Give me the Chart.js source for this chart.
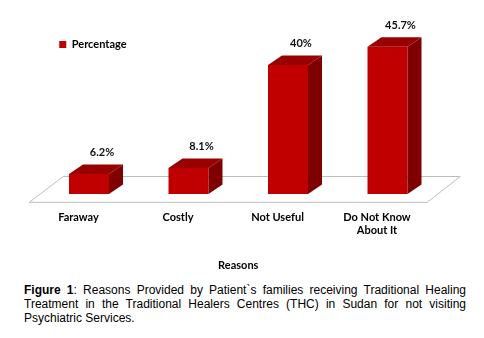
<!DOCTYPE html>
<html>
<head>
<meta charset="utf-8">
<script src="https://cdn.jsdelivr.net/npm/chart.js@4/dist/chart.umd.min.js"></script>
<style>
  html, body { margin: 0; padding: 0; background: #ffffff; }
  body { width: 484px; height: 338px; position: relative; overflow: hidden; }
  #wrap { position: absolute; left: 0; top: 0; width: 484px; height: 272px; }
  #caption {
    position: absolute; left: 24px; top: 282.7px; width: 442px;
    font-family: "Liberation Sans", Arial, sans-serif; font-size: 12px; line-height: 14.2px;
    color: #000; text-align: justify; margin: 0;
  }
</style>
</head>
<body>
<div id="wrap"><canvas id="c" width="484" height="272"></canvas></div>
<p id="caption"><b>Figure 1</b>: Reasons Provided by Patient`s families receiving Traditional Healing Treatment in the Traditional Healers Centres (THC) in Sudan for not visiting Psychiatric Services.</p>
<script>
// ---- data ----
const categories = ['Faraway', 'Costly', 'Not Useful', ['Do Not Know', 'About It']];
const percentages = [6.2, 8.1, 40, 45.7];
const seriesName = 'Percentage';
const axisTitle = 'Reasons';

// ---- styling ----
const FRONT = '#C00000', TOP = '#990000', SIDE = '#7F0000';
const DEPTH_X = 14, DEPTH_Y = 9.5;
const labelFont = { family: 'Lato', weight: 'bold', size: 11 };

Chart.defaults.font.family = 'Lato';

const floorPlugin = {
  id: 'floor3d',
  beforeDatasetsDraw(chart) {
    const { ctx, scales: { x, y } } = chart;
    const base = y.getPixelForValue(0);
    const fy = base + 8.3, by = base - 17.5;
    const fl = x.left - 10, fr = x.right - 10;
    const bl = x.left + 24, br = x.right + 23;
    ctx.save();
    ctx.beginPath();
    ctx.moveTo(fl, fy); ctx.lineTo(fr, fy); ctx.lineTo(br, by); ctx.lineTo(bl, by); ctx.closePath();
    ctx.fillStyle = '#ffffff';
    ctx.fill();
    ctx.strokeStyle = '#bcbcbc';
    ctx.lineWidth = 1;
    ctx.stroke();
    ctx.restore();
  }
};

const bar3dPlugin = {
  id: 'bar3d',
  afterDatasetsDraw(chart) {
    const { ctx } = chart;
    const meta = chart.getDatasetMeta(0);
    const values = chart.data.datasets[0].data;
    ctx.save();
    meta.data.forEach((el, i) => {
      const { x, y, base, width } = el.getProps(['x', 'y', 'base', 'width'], true);
      const l = x - width / 2, r = x + width / 2;
      // top face
      ctx.beginPath();
      ctx.moveTo(l, y); ctx.lineTo(r, y); ctx.lineTo(r + DEPTH_X, y - DEPTH_Y); ctx.lineTo(l + DEPTH_X, y - DEPTH_Y); ctx.closePath();
      ctx.fillStyle = TOP; ctx.fill();
      // side face
      ctx.beginPath();
      ctx.moveTo(r, y); ctx.lineTo(r + DEPTH_X, y - DEPTH_Y); ctx.lineTo(r + DEPTH_X, base - DEPTH_Y); ctx.lineTo(r, base); ctx.closePath();
      ctx.fillStyle = SIDE; ctx.fill();
      // value label
      ctx.fillStyle = '#111111';
      ctx.font = 'bold 11px Lato';
      ctx.textAlign = 'center';
      ctx.textBaseline = 'middle';
      ctx.fillText(values[i] + '%', x + 13, y - DEPTH_Y - 12);
    });
    ctx.restore();
  }
};

new Chart(document.getElementById('c'), {
  type: 'bar',
  data: {
    labels: categories,
    datasets: [{
      label: seriesName,
      data: percentages,
      backgroundColor: FRONT,
      borderWidth: 0,
      barPercentage: 0.402,
      categoryPercentage: 1,
      clip: false
    }]
  },
  options: {
    responsive: false,
    animation: false,
    devicePixelRatio: 1,
    layout: { padding: { left: 39.25, right: 46.75, top: 19, bottom: 0 } },
    plugins: {
      legend: {
        position: 'chartArea',
        align: 'start',
        title: { display: true, text: ' ', font: { size: 11 }, padding: { top: 0, bottom: 5.8 } },
        labels: { boxWidth: 7, boxHeight: 7, padding: 20, color: '#000', font: labelFont }
      },
      tooltip: { enabled: false }
    },
    scales: {
      x: {
        grid: { display: false, drawTicks: false },
        border: { display: false },
        ticks: { padding: 17, labelOffset: -10.5, color: '#000', font: labelFont, maxRotation: 0, autoSkip: false },
        title: { display: true, text: axisTitle, color: '#000', font: labelFont, padding: 0 },
        afterFit(scale) { scale.height = 78; }
      },
      y: { display: false, min: 0, max: 54.3 }
    }
  },
  plugins: [floorPlugin, bar3dPlugin]
});
</script>
</body>
</html>
